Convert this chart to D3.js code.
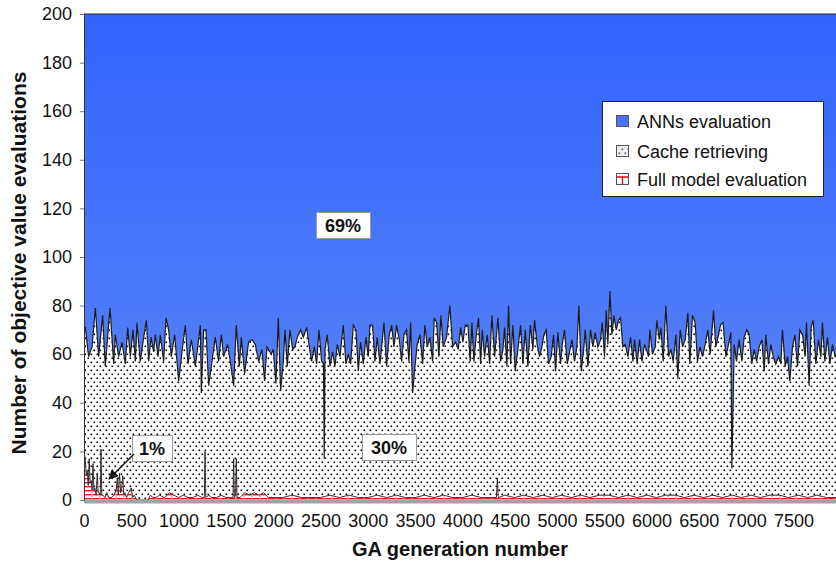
<!DOCTYPE html>
<html>
<head>
<meta charset="utf-8">
<script src="https://cdn.jsdelivr.net/npm/d3@7"></script>
<style>
  body { margin: 0; background: #fff; }
  svg { display: block; font-family: "Liberation Sans", Arial, sans-serif; }
</style>
</head>
<body>
<div id="chart"></div>
<script>
// total evaluations per generation (population) and the cache + full model share
var populationSize = 200;

var generations = [
  0,14,49,85,120,155,197,225,275,314,331,366,402,437,462,490,518,543,560,595,
  631,659,684,708,736,754,782,807,842,867,895,923,958,1001,1036,1071,1099,1135,1177,1230,
  1240,1265,1290,1318,1353,1388,1423,1452,1476,1518,1547,1582,1610,1642,1663,1698,1740,1776,1811,1846,
  1881,1909,1934,1980,
  2001,2029,2054,2079,2107,2125,2149,2177,2206,2230,2255,2290,2318,2354,2382,2406,2435,2459,2484,2512,
  2532,2540,2548,2572,2600,2628,2653,2678,2706,2741,2769,2794,2819,2847,2875,2900,2924,2952,2981,3005,
  3023,3051,3076,3100,3129,3171,3199,3227,3252,3277,3305,3333,3358,3382,3410,3435,3453,3474,3499,3523,
  3551,3580,3604,3629,3657,3685,3703,3728,3752,3773,3798,3833,3868,3897,3928,3957,
  3981,4006,4030,4059,4083,4101,4122,4147,4171,4193,4210,4235,4263,4288,4312,4341,4376,4404,4429,4446,
  4471,4488,4510,4534,4559,4587,4615,4640,4665,4693,4718,4746,4763,4791,4816,4841,4862,4887,4911,4939,
  4964,4985,5010,5038,5056,5080,5109,5133,5158,5186,5211,5232,5257,5285,5299,5327,5355,5380,5404,5433,
  5461,5478,5503,5521,5538,5560,5581,5602,5627,5651,5672,5697,5722,5750,5778,5803,5820,5848,5873,5898,
  5926,5954,
  5968,5982,6010,6039,6056,6081,6099,6123,6151,6180,6204,6229,6257,6278,6303,6328,6356,6384,6405,6433,
  6461,6486,6511,6539,6567,6595,6620,6655,6680,6708,6729,6757,6786,6814,6838,6849,6874,6898,6926,6955,
  6979,7007,7032,7060,7085,7110,7138,7166,7191,7208,7236,7261,7286,7314,7342,7367,7384,7413,7437,7462,
  7490,7515,7543,7568,7596,7624,7638,7666,7687,7709,7737,7765,7790,7807,7832,7860,7885,7913,7941,7950
];

// cache retrieving + full model evaluations (top of the dotted area)
var cacheAndFull = [
  71,71,59,63,79,59,76,55,79,56,68,59,65,56,71,59,70,57,73,57,
  67,74,57,67,61,68,59,68,57,75,70,59,68,49,61,72,56,66,55,72,
  44,70,70,47,57,67,57,68,59,64,57,47,72,55,67,52,65,66,64,57,
  62,49,63,60,
  62,48,75,45,57,70,55,70,62,63,67,70,67,71,63,57,63,56,70,57,
  56,17,62,68,55,61,55,64,59,72,56,60,56,72,70,53,65,56,67,59,
  72,72,57,67,56,73,55,68,72,63,72,66,57,68,70,57,73,44,55,64,
  68,56,72,63,67,57,75,73,59,76,63,67,80,63,65,62,
  71,65,72,72,57,73,57,68,75,56,70,59,68,56,76,59,75,57,62,71,
  55,80,56,72,53,62,72,56,70,55,72,62,74,64,59,63,68,70,56,59,
  68,53,69,56,64,70,56,61,66,57,63,80,53,63,70,55,70,63,69,63,
  66,73,59,78,64,86,68,76,70,74,75,63,64,59,67,57,66,56,66,57,
  64,61,
  59,70,60,63,74,66,71,57,80,59,62,57,68,50,70,63,66,77,56,76,
  73,57,63,59,64,70,60,78,63,68,72,73,59,64,69,13,64,57,66,57,
  67,70,68,56,62,57,63,66,53,68,56,64,59,56,59,56,70,55,59,49,
  63,68,55,70,68,59,73,47,71,74,56,66,59,73,57,67,56,64,59,60
];

var fullGens = [
  0,8,15,25,35,45,55,65,75,85,
  95,105,115,128,140,150,160,172,180,188,
  200,220,240,265,290,315,340,352,362,375,
  388,398,410,420,432,450,470,500,515,530,
  560,600,680,700,730,760,800,850,900,950,
  1000,1050,1100,1150,1200,1250,1272,1280,1288,1320,
  1350,1400,1450,1500,1550,1575,1582,1590,1602,1610,
  1618,1650,1700,1750,1800,1850,1900,1950,2000,2100,
  2200,2300,2400,2500,2600,2700,2800,2900,3000,3100,
  3200,3300,3400,3500,3600,3700,3800,3900,4000,4100,
  4200,4300,4360,4370,4380,4450,4550,4650,4750,4850,
  4950,5050,5150,5250,5350,5450,5550,5650,5750,5850,
  5950,6050,6150,6250,6350,6450,6550,6650,6750,6850,
  6950,7050,7150,7250,7350,7450,7550,7650,7750,7850,
  7950
];

// full model evaluations per generation
var fullEvals = [
  20,18,16,10,12,6,17,7,8,4,
  15,4,5,2,11,3,3,2,21,2,
  2,1,3,1,1,2,4,9,2,11,
  3,5,10,2,3,1,3,5,1,2,
  0,0,0,2,1,1,2,1,3,2,
  1,2,1,1,2,1,1,20,1,2,
  1,1,2,1,1,1,17,1,2,17,
  1,1,3,2,3,2,3,1,1,1,
  2,1,1,1,2,1,2,1,1,2,
  1,2,1,1,2,1,2,1,1,2,
  1,1,1,9,1,2,1,2,1,2,
  1,2,1,2,1,2,2,1,2,1,
  2,1,2,2,1,2,1,2,1,2,
  1,2,1,2,2,1,2,1,2,1,
  1
];

var xTicks = [0,500,1000,1500,2000,2500,3000,3500,4000,4500,5000,5500,6000,6500,7000,7500];
var yTicks = [0,20,40,60,80,100,120,140,160,180,200];
var seriesNames = ["ANNs evaluation", "Cache retrieving", "Full model evaluation"];
var shareLabels = ["69%", "30%", "1%"];

var W = 836, H = 562;
var margin = {top: 14, right: 0, bottom: 62, left: 84};

var svg = d3.select("#chart").append("svg")
    .attr("width", W)
    .attr("height", H);

var x = d3.scaleLinear().domain([0, 7950]).range([margin.left, W - margin.right]);
var y = d3.scaleLinear().domain([0, populationSize]).range([H - margin.bottom, margin.top]);

var defs = svg.append("defs");

var grad = defs.append("linearGradient")
    .attr("id", "blueGrad")
    .attr("gradientUnits", "userSpaceOnUse")
    .attr("x1", 0).attr("y1", y(200)).attr("x2", 0).attr("y2", y(0));
grad.append("stop").attr("offset", "0%").attr("stop-color", "#3064fe");
grad.append("stop").attr("offset", "100%").attr("stop-color", "#6088f6");

var dots = defs.append("pattern")
    .attr("id", "dots")
    .attr("patternUnits", "userSpaceOnUse")
    .attr("width", 6).attr("height", 8);
dots.append("rect").attr("width", 6).attr("height", 8).attr("fill", "#fff");
dots.append("rect").attr("x", 0.5).attr("y", 1.5).attr("width", 1.6).attr("height", 1.6).attr("fill", "#000");
dots.append("rect").attr("x", 3.5).attr("y", 5.5).attr("width", 1.6).attr("height", 1.6).attr("fill", "#000");

var hatch = defs.append("pattern")
    .attr("id", "hatch")
    .attr("patternUnits", "userSpaceOnUse")
    .attr("y", 2)
    .attr("width", 8).attr("height", 4);
hatch.append("rect").attr("width", 8).attr("height", 4).attr("fill", "#fff");
hatch.append("rect").attr("x", 0).attr("y", 0).attr("width", 8).attr("height", 1.4).attr("fill", "#e8121a");
hatch.append("rect").attr("x", 3.4).attr("y", 0).attr("width", 1.2).attr("height", 4).attr("fill", "#f3a0a0");

defs.append("clipPath").attr("id", "plotClip")
  .append("rect")
    .attr("x", margin.left).attr("y", margin.top)
    .attr("width", W - margin.right - margin.left)
    .attr("height", y(0) - margin.top);

defs.append("marker")
    .attr("id", "arrowHead")
    .attr("viewBox", "0 0 10 10")
    .attr("refX", 9).attr("refY", 5)
    .attr("markerWidth", 7).attr("markerHeight", 7)
    .attr("orient", "auto")
  .append("path")
    .attr("d", "M0,0 L10,5 L0,10 z")
    .attr("fill", "#111");

var totals = d3.zip(generations, cacheAndFull);
var fulls = d3.zip(fullGens, fullEvals);

var plot = svg.append("g").attr("clip-path", "url(#plotClip)");

// ANNs evaluation: from cache top up to the population size
plot.append("path")
    .datum(totals)
    .attr("fill", "url(#blueGrad)")
    .attr("d", d3.area()
        .x(function(d){ return x(d[0]); })
        .y0(y(populationSize))
        .y1(function(d){ return y(d[1]); }));

// cache retrieving (dotted)
plot.append("path")
    .datum(totals)
    .attr("fill", "url(#dots)")
    .attr("d", d3.area()
        .x(function(d){ return x(d[0]); })
        .y0(y(0))
        .y1(function(d){ return y(d[1]); }));

plot.append("path")
    .datum(totals)
    .attr("fill", "none")
    .attr("stroke", "#1a1a1a")
    .attr("stroke-width", 1.2)
    .attr("d", d3.line()
        .x(function(d){ return x(d[0]); })
        .y(function(d){ return y(d[1]); }));

// full model evaluation (red hatch)
plot.append("path")
    .datum(fulls)
    .attr("fill", "url(#hatch)")
    .attr("d", d3.area()
        .x(function(d){ return x(d[0]); })
        .y0(y(0))
        .y1(function(d){ return y(d[1]); }));

plot.append("path")
    .datum(fulls)
    .attr("fill", "none")
    .attr("stroke", "#222")
    .attr("stroke-width", 0.9)
    .attr("d", d3.line()
        .x(function(d){ return x(d[0]); })
        .y(function(d){ return y(d[1]); }));

// top border of plot
svg.append("line")
    .attr("x1", margin.left).attr("x2", W)
    .attr("y1", y(200)).attr("y2", y(200))
    .attr("stroke", "#222").attr("stroke-width", 1);

// grey band under x axis
svg.append("rect")
    .attr("x", margin.left).attr("y", y(0))
    .attr("width", W - margin.left).attr("height", 3.5)
    .attr("fill", "#a3a3a3");

// axes
var yAxis = svg.append("g")
    .attr("transform", "translate(" + margin.left + ",0)")
    .call(d3.axisLeft(y).tickValues(yTicks).tickSize(4).tickPadding(8).tickSizeOuter(0));
yAxis.select(".domain").attr("stroke", "#333");
yAxis.selectAll(".tick line").attr("stroke", "#777");
yAxis.selectAll("text").attr("font-size", "18px").attr("fill", "#111")
    .attr("font-family", "Liberation Sans, Arial, sans-serif");

var xAxis = svg.append("g")
    .attr("transform", "translate(0," + y(0) + ")")
    .call(d3.axisBottom(x).tickValues(xTicks).tickSize(0).tickPadding(14).tickFormat(d3.format("d")));
xAxis.select(".domain").remove();
xAxis.selectAll("text").attr("font-size", "18px").attr("fill", "#111")
    .attr("font-family", "Liberation Sans, Arial, sans-serif");

svg.append("text")
    .attr("x", (margin.left + W) / 2)
    .attr("y", 556)
    .attr("text-anchor", "middle")
    .attr("font-size", "20px")
    .attr("font-weight", "bold")
    .attr("fill", "#111")
    .text("GA generation number");

svg.append("text")
    .attr("transform", "translate(26,263) rotate(-90)")
    .attr("text-anchor", "middle")
    .attr("font-size", "21px")
    .attr("font-weight", "bold")
    .attr("fill", "#111")
    .text("Number of objective value evaluations");

// legend
var legend = svg.append("g");
legend.append("rect")
    .attr("x", 602.5).attr("y", 101.5)
    .attr("width", 221).attr("height", 95)
    .attr("fill", "#fff").attr("stroke", "#222");

var rowY = [121, 151, 179];
seriesNames.forEach(function(name, i){
    var row = legend.append("g").attr("transform", "translate(0," + rowY[i] + ")");
    if (i === 0) {
        row.append("rect").attr("x", 616.5).attr("y", -5.5).attr("width", 12).attr("height", 11)
            .attr("fill", "#4a72f8").attr("stroke", "#555");
    } else if (i === 1) {
        row.append("rect").attr("x", 616.5).attr("y", -5.5).attr("width", 12).attr("height", 11)
            .attr("fill", "#d8d8d8").attr("stroke", "#555");
        row.append("rect").attr("x", 617).attr("y", -5).attr("width", 11).attr("height", 10)
            .attr("fill", "url(#dots)").attr("opacity", 0.6);
    } else {
        row.append("rect").attr("x", 616.5).attr("y", -5.5).attr("width", 12).attr("height", 11)
            .attr("fill", "#fff").attr("stroke", "#555");
        row.append("line").attr("x1", 617).attr("x2", 628).attr("y1", -2).attr("y2", -2)
            .attr("stroke", "#e8121a").attr("stroke-width", 1.6);
        row.append("line").attr("x1", 622.5).attr("x2", 622.5).attr("y1", -2).attr("y2", 5)
            .attr("stroke", "#e8121a").attr("stroke-width", 1.4);
    }
    row.append("text")
        .attr("x", 637).attr("y", 6.5)
        .attr("font-size", "18px")
        .attr("fill", "#111")
        .text(name);
});

// share annotations
function shareBox(label, cx, cy, w) {
    var g = svg.append("g");
    g.append("rect")
        .attr("x", cx - w / 2 + 0.5).attr("y", cy - 13 + 0.5)
        .attr("width", w).attr("height", 26)
        .attr("fill", "#fff").attr("stroke", "#9a9a9a");
    g.append("text")
        .attr("x", cx).attr("y", cy + 6.5)
        .attr("text-anchor", "middle")
        .attr("font-size", "18px")
        .attr("font-weight", "bold")
        .attr("fill", "#111")
        .text(label);
}
shareBox(shareLabels[0], 343, 225, 54);
shareBox(shareLabels[1], 389, 447, 54);
shareBox(shareLabels[2], 152, 448, 40);

svg.append("line")
    .attr("x1", 134).attr("y1", 454)
    .attr("x2", 109).attr("y2", 479)
    .attr("stroke", "#111").attr("stroke-width", 1.4)
    .attr("marker-end", "url(#arrowHead)");
</script>
</body>
</html>
